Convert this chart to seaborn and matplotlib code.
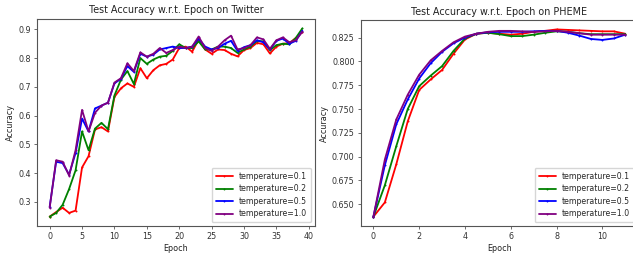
import matplotlib

matplotlib.use("Agg")

import matplotlib.pyplot as plt
import numpy as np
import pandas as pd
import seaborn as sns

# ---- Twitter (one value per epoch, 0..39) ----
twitter_epochs = list(range(40))
twitter_t01 = [0.249, 0.265, 0.280, 0.262, 0.270, 0.420, 0.459, 0.552, 0.560, 0.545,
               0.665, 0.695, 0.712, 0.700, 0.765, 0.730, 0.758, 0.775, 0.780, 0.795,
               0.835, 0.840, 0.822, 0.865, 0.830, 0.815, 0.830, 0.828, 0.815, 0.806,
               0.828, 0.835, 0.853, 0.848, 0.816, 0.840, 0.850, 0.852, 0.870, 0.890]
twitter_t02 = [0.249, 0.262, 0.290, 0.345, 0.410, 0.545, 0.480, 0.555, 0.575, 0.553,
               0.670, 0.725, 0.755, 0.710, 0.800, 0.780, 0.795, 0.805, 0.808, 0.825,
               0.848, 0.835, 0.835, 0.858, 0.830, 0.830, 0.840, 0.840, 0.835, 0.818,
               0.830, 0.840, 0.860, 0.858, 0.828, 0.845, 0.850, 0.848, 0.870, 0.903]
twitter_t05 = [0.283, 0.440, 0.435, 0.395, 0.470, 0.590, 0.545, 0.625, 0.635, 0.645,
               0.712, 0.728, 0.772, 0.752, 0.815, 0.805, 0.812, 0.830, 0.835, 0.840,
               0.835, 0.835, 0.840, 0.868, 0.840, 0.830, 0.835, 0.850, 0.860, 0.825,
               0.838, 0.845, 0.862, 0.855, 0.830, 0.860, 0.868, 0.850, 0.860, 0.895]
twitter_t10 = [0.280, 0.445, 0.440, 0.392, 0.480, 0.620, 0.545, 0.610, 0.635, 0.645,
               0.715, 0.730, 0.782, 0.755, 0.820, 0.805, 0.815, 0.835, 0.818, 0.828,
               0.840, 0.835, 0.840, 0.875, 0.835, 0.825, 0.840, 0.862, 0.878, 0.830,
               0.835, 0.845, 0.872, 0.865, 0.832, 0.862, 0.872, 0.855, 0.862, 0.892]

# ---- PHEME (every half epoch, 0..11) ----
pheme_epochs = [i * 0.5 for i in range(23)]
pheme_t01 = [0.637, 0.652, 0.692, 0.737, 0.770, 0.781, 0.791, 0.808, 0.823, 0.829,
             0.830, 0.829, 0.828, 0.829, 0.831, 0.832, 0.8335, 0.833, 0.8325, 0.832,
             0.8315, 0.8315, 0.829]
pheme_t02 = [0.637, 0.670, 0.711, 0.750, 0.774, 0.785, 0.795, 0.811, 0.824, 0.829,
             0.830, 0.8285, 0.8265, 0.8265, 0.828, 0.830, 0.8315, 0.831, 0.8295, 0.8285,
             0.8285, 0.8285, 0.8285]
pheme_t05 = [0.637, 0.691, 0.734, 0.760, 0.782, 0.798, 0.810, 0.819, 0.825, 0.829,
             0.8305, 0.831, 0.831, 0.831, 0.8315, 0.832, 0.832, 0.830, 0.827, 0.8235,
             0.8225, 0.824, 0.828]
pheme_t10 = [0.637, 0.697, 0.739, 0.765, 0.786, 0.801, 0.811, 0.820, 0.826, 0.829,
             0.831, 0.832, 0.832, 0.8315, 0.831, 0.8315, 0.832, 0.831, 0.8295, 0.828,
             0.828, 0.828, 0.828]

labels = ["temperature=0.1", "temperature=0.2", "temperature=0.5", "temperature=1.0"]
colors = ["red", "green", "blue", "purple"]

sns.set_theme(style="ticks")
plt.rcParams["font.family"] = ["DejaVu Sans"]
plt.rcParams["axes.edgecolor"] = "#555555"
plt.rcParams["axes.linewidth"] = 0.8
plt.rcParams["xtick.color"] = "#555555"
plt.rcParams["ytick.color"] = "#555555"
plt.rcParams["xtick.labelcolor"] = "#333333"
plt.rcParams["ytick.labelcolor"] = "#333333"
plt.rcParams["xtick.major.size"] = 2.5
plt.rcParams["ytick.major.size"] = 2.5
plt.rcParams["xtick.major.width"] = 0.6
plt.rcParams["ytick.major.width"] = 0.6

fig = plt.figure(figsize=(6.33, 2.54), dpi=100)
ax1 = fig.add_axes([0.0585, 0.110, 0.439, 0.815])
ax2 = fig.add_axes([0.570, 0.110, 0.4376, 0.811])


def draw(ax, epochs, series, title, yticks, fmt):
    for vals, lab, col in zip(series, labels, colors):
        df = pd.DataFrame({"Epoch": epochs, "Accuracy": vals})
        sns.lineplot(data=df, x="Epoch", y="Accuracy", ax=ax, color=col, label=lab,
                     linewidth=1.3, marker=".", markersize=2.8, markeredgewidth=0)
    ax.set_title(title, fontsize=6.9, color="#222222", pad=4)
    ax.set_xlabel("Epoch", fontsize=5.8, labelpad=2, color="#222222")
    ax.set_ylabel("Accuracy", fontsize=5.8, labelpad=2, color="#222222")
    ax.set_yticks(yticks)
    ax.set_yticklabels([fmt.format(v) for v in yticks])
    ax.tick_params(labelsize=5.8, pad=2)
    ax.legend(loc="lower right", fontsize=5.6, frameon=True, edgecolor="#cccccc",
              handlelength=2.2, borderpad=0.5, labelspacing=0.45, fancybox=True)


draw(ax1, twitter_epochs, [twitter_t01, twitter_t02, twitter_t05, twitter_t10],
     "Test Accuracy w.r.t. Epoch on Twitter", [0.3, 0.4, 0.5, 0.6, 0.7, 0.8, 0.9], "{:.1f}")
ax1.set_xticks(range(0, 45, 5))

draw(ax2, pheme_epochs, [pheme_t01, pheme_t02, pheme_t05, pheme_t10],
     "Test Accuracy w.r.t. Epoch on PHEME",
     [0.650, 0.675, 0.700, 0.725, 0.750, 0.775, 0.800, 0.825], "{:.3f}")
ax2.set_xticks(range(0, 12, 2))

fig.savefig("out.png", dpi=100)
